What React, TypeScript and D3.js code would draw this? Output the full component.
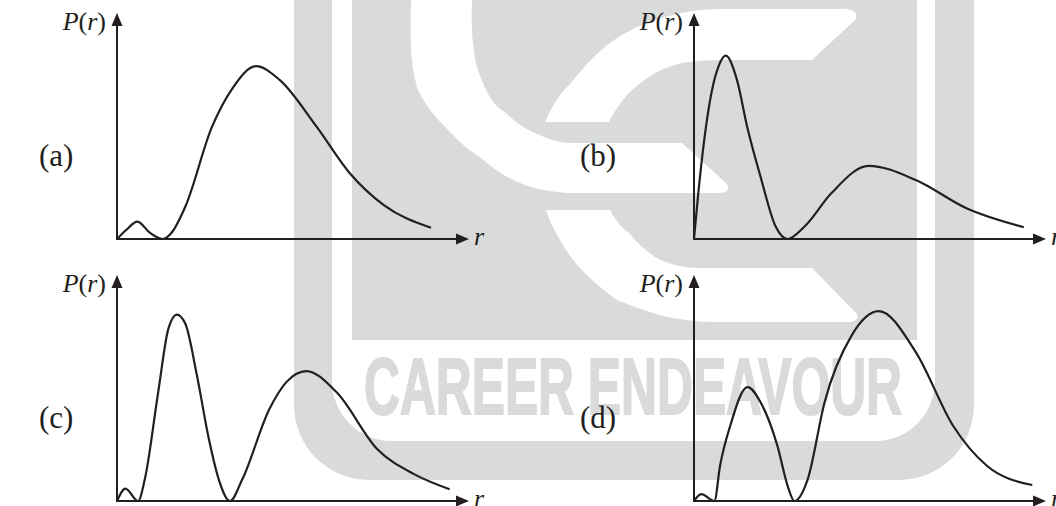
import * as d3 from 'd3';

// radial distribution curves, r in units 0..10 along the axis, P normalised to axis height
const curveA: [number, number][] = [
  [0, 0], [0.26, 0.04], [0.58, 0.077], [0.93, 0.028], [1.3, 0], [1.55, 0.028],
  [1.94, 0.143], [2.7, 0.497], [3.28, 0.667], [3.95, 0.765], [4.62, 0.704],
  [5.67, 0.497], [6.62, 0.29], [7.58, 0.15], [8.92, 0.05],
];
const curveB: [number, number][] = [
  [0, 0], [0.12, 0.2], [0.3, 0.45], [0.5, 0.65], [0.7, 0.765],
  [0.9, 0.811], [1.22, 0.704], [1.51, 0.497], [1.89, 0.276], [2.32, 0.055],
  [2.66, 0], [3.14, 0.055], [3.9, 0.202], [4.96, 0.324], [6.3, 0.261],
  [7.74, 0.136], [9.37, 0.052],
];
const curveC: [number, number][] = [
  [0, 0], [0.24, 0.055], [0.6, 0], [0.79, 0.096], [1.17, 0.481], [1.46, 0.763],
  [1.7, 0.825], [1.94, 0.785], [2.27, 0.556], [2.61, 0.274], [2.89, 0.096],
  [3.21, 0], [3.56, 0.096], [4.33, 0.407], [4.81, 0.526], [5.38, 0.575],
  [6.24, 0.481], [7.39, 0.23], [8.44, 0.119], [9.45, 0.052],
];
const curveD: [number, number][] = [
  [0, 0], [0.21, 0.03], [0.58, 0], [0.74, 0.156], [1.03, 0.333], [1.52, 0.504],
  [1.89, 0.437], [2.37, 0.244], [2.66, 0.067], [2.85, 0], [3.23, 0.096],
  [3.71, 0.437], [4.48, 0.733], [5.25, 0.84], [6.3, 0.659], [7.36, 0.333],
  [8.32, 0.156], [9.61, 0.071],
];
const panelLabels = ['(a)', '(b)', '(c)', '(d)'];

const W = 1056;
const H = 506;
const INK = '#231f20';
const GRAY = '#d9dbdb';
const AXIS_LEN = 352;
const AXIS_H = 226;
const FONT = '"Liberation Serif", "Times New Roman", serif';

// origin of each panel's axes
const layout = [
  { ox: 117, oy: 239, lx: 39 },
  { ox: 694, oy: 239, lx: 580 },
  { ox: 117, oy: 501, lx: 39 },
  { ox: 694, oy: 501, lx: 580 },
];
const curves = [curveA, curveB, curveC, curveD];

const Watermark = () => (
  <g>
    <path d="M294,0 H974 V405 A75,75 0 0 1 899,480 H369 A75,75 0 0 1 294,405 Z" fill={GRAY} />
    <path d="M332,0 H935 V381 A60,60 0 0 1 875,441 H392 A60,60 0 0 1 332,381 Z" fill="#fff" />
    <rect x={352} y={0} width={565} height={340} fill={GRAY} />
    {/* big C */}
    <path
      d="M411,0 H472 C471,30 472,60 483,83 C490,100 497,108 506,113 C515,122 524,128 533,132 C545,138 558,143 571,143 H682 L726,183 C731,189 727,193 717,193 H567 C545,191 530,188 518,182 C500,174 490,166 480,157 C465,148 458,140 451,133 C440,122 435,116 430,110 C420,95 417,88 416,83 C410,60 410,30 411,0 Z"
      fill="#fff"
    />
    {/* upper arm */}
    <path
      d="M545,122 C555,100 562,92 571,83 C585,65 598,52 610,43 C625,32 640,25 655,20 C680,12 700,9 724,9 H839 C852,8 860,13 855,20 L812,60 H724 C705,60 695,61 682,63 C670,66 663,69 655,73 C645,79 636,86 629,93 C620,103 614,112 609,122 Z"
      fill="#fff"
    />
    {/* lower arm */}
    <path
      d="M546,210 H610 C615,220 621,227 629,233 C637,243 646,251 655,257 C668,264 683,268 698,268 H812 L856,313 C860,318 856,322 847,322 H717 C700,322 684,320 667,317 C648,312 632,306 617,300 C603,290 590,279 579,267 C571,258 565,249 560,240 C554,230 549,220 546,210 Z"
      fill="#fff"
    />
    <text
      x={364}
      y={414}
      textLength={538}
      lengthAdjust="spacingAndGlyphs"
      fontFamily='"Liberation Sans", Arial, sans-serif'
      fontWeight="bold"
      fontSize={79}
      fill={GRAY}
      stroke={GRAY}
      strokeWidth={2}
    >
      CAREER ENDEAVOUR
    </text>
  </g>
);

const Panel = ({ data, ox, oy, lx, label }: { data: [number, number][]; ox: number; oy: number; lx: number; label: string }) => {
  const x = d3.scaleLinear().domain([0, 10]).range([ox, ox + AXIS_LEN]);
  const y = d3.scaleLinear().domain([0, 1]).range([oy, oy - AXIS_H]);
  const line = d3
    .line<[number, number]>()
    .x((d) => x(d[0]))
    .y((d) => y(d[1]))
    .curve(d3.curveMonotoneX);

  const [x0, x1] = x.range();
  const [y0, y1] = y.range();

  return (
    <g>
      <path d={line(data) ?? ''} fill="none" stroke={INK} strokeWidth={2.2} strokeLinejoin="round" />
      {/* axes */}
      <line x1={x0} y1={y0} x2={x1 - 10} y2={y0} stroke={INK} strokeWidth={2} />
      <polygon points={`${x1},${y0} ${x1 - 13},${y0 - 5.5} ${x1 - 13},${y0 + 5.5}`} fill={INK} />
      <line x1={x0} y1={y0 + 1} x2={x0} y2={y1 + 10} stroke={INK} strokeWidth={2} />
      <polygon points={`${x0},${y1} ${x0 - 5.5},${y1 + 13} ${x0 + 5.5},${y1 + 13}`} fill={INK} />
      <text x={x0 - 11} y={y1 + 17} textAnchor="end" fontFamily={FONT} fontSize={26} fill={INK}>
        <tspan fontStyle="italic">P</tspan>(<tspan fontStyle="italic">r</tspan>)
      </text>
      <text x={x1 + 5} y={y0 + 6} fontFamily={FONT} fontSize={26} fontStyle="italic" fill={INK}>
        r
      </text>
      <text x={lx} y={oy - 73} fontFamily={FONT} fontSize={31} fill={INK}>
        {label}
      </text>
    </g>
  );
};

export default function App() {
  return (
    <svg
      width={W}
      height={H}
      style={{ position: 'absolute', left: 0, top: 0, display: 'block', background: '#fff' }}
    >
      <Watermark />
      {layout.map((p, i) => (
        <Panel key={panelLabels[i]} data={curves[i]} ox={p.ox} oy={p.oy} lx={p.lx} label={panelLabels[i]} />
      ))}
    </svg>
  );
}
